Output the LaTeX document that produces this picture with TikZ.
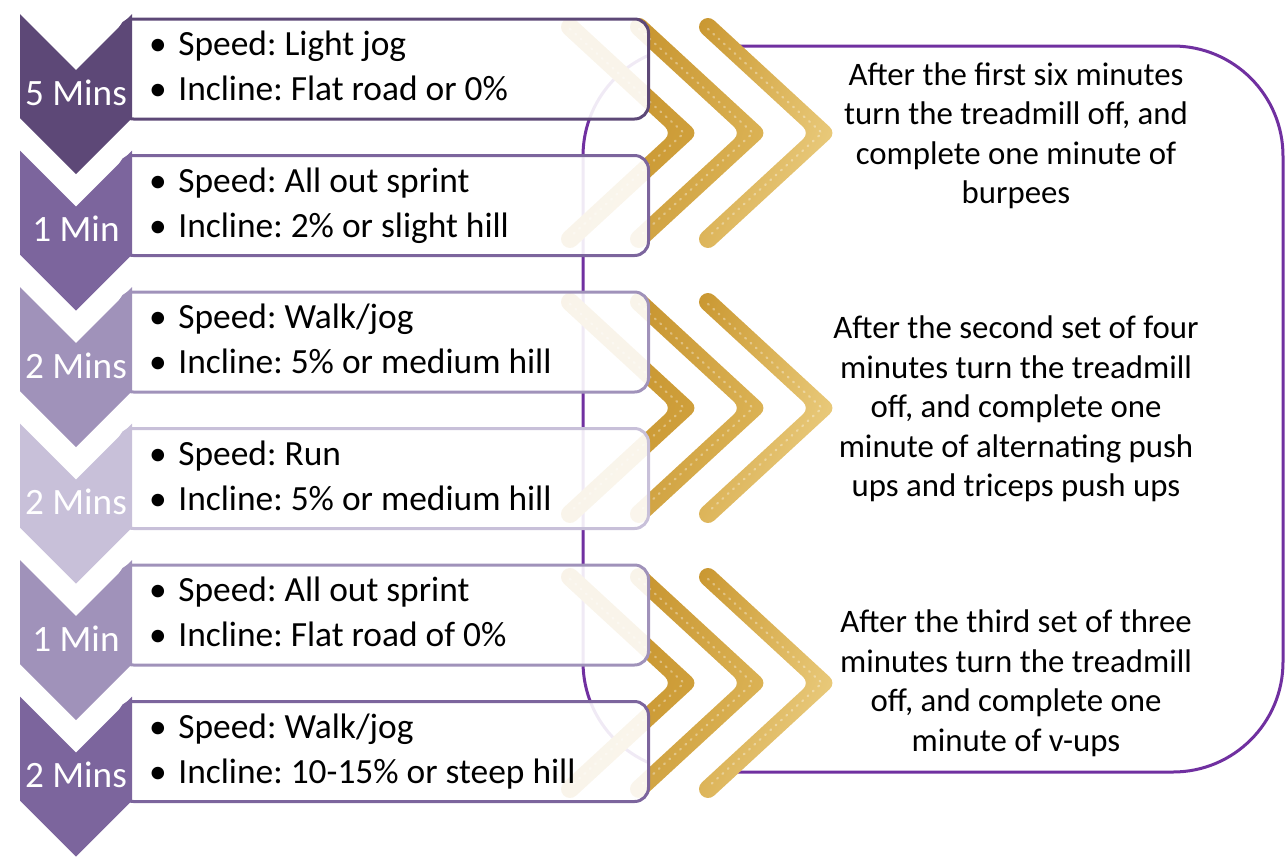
\documentclass[tikz,border=0pt]{standalone}
\usepackage{fontspec}
\setmainfont{Carlito}
\frenchspacing
\usetikzlibrary{shadings}
\definecolor{chevA}{HTML}{5D4877}
\definecolor{chevB}{HTML}{7C659D}
\definecolor{chevC}{HTML}{A092BA}
\definecolor{chevD}{HTML}{C8C0D9}
\definecolor{framepurple}{HTML}{7030A0}
\definecolor{gAul}{HTML}{C28D27}
\definecolor{gAur}{HTML}{CC9B35}
\definecolor{gAll}{HTML}{C9962F}
\definecolor{gAlr}{HTML}{D3A543}
\definecolor{gBul}{HTML}{C5912B}
\definecolor{gBur}{HTML}{D8AD4E}
\definecolor{gBll}{HTML}{D0A241}
\definecolor{gBlr}{HTML}{DFB95D}
\definecolor{gCul}{HTML}{C8952E}
\definecolor{gCur}{HTML}{E4C068}
\definecolor{gCll}{HTML}{DDB55A}
\definecolor{gClr}{HTML}{EED48E}
\tikzset{
  framestyle/.style={draw=framepurple, line width=1.5pt},
  speck/.style={white, opacity=0.35, line width=1.1pt, dash pattern=on 0.5pt off 3.1pt, line cap=round},
  boxshape/.style={rectangle, rounded corners=7pt, minimum width=264.5pt, minimum height=50pt,
    fill=white, fill opacity=0.9, line width=1.5pt, inner sep=0pt},
  labtext/.style={text=white, font=\fontsize{18.6}{22}\selectfont, inner sep=0pt},
  itemtext/.style={text=black, font=\fontsize{17.7}{20}\selectfont, inner sep=0pt},
  rtext/.style={text=black, font=\fontsize{16.4}{19.5}\selectfont, inner sep=0pt, anchor=base}
}
% gold chevron: #1 start x of centre line, #2 centre y, #3-#6 corner colours
\newcommand\goldchev[6]{%
  \shade[upper left=#3, upper right=#4, lower left=#5, lower right=#6, rounded corners=4.5pt]
    (#1-0.5,#2-118.7) -- (#1+128.3,#2) -- (#1-0.5,#2+118.7) -- (#1-12.7,#2+105.5)
    -- (#1+101.7,#2) -- (#1-12.7,#2-105.5) -- cycle;
  \draw[speck] (#1,#2-104) -- (#1+114,#2) -- (#1,#2+104);
}
\newcommand\goldgroup[1]{%
  \goldchev{570}{#1}{gAul}{gAur}{gAll}{gAlr}
  \goldchev{639}{#1}{gBul}{gBur}{gBll}{gBlr}
  \goldchev{708}{#1}{gCul}{gCur}{gCll}{gClr}
}
% step row: #1 index, #2 top y, #3 colour, #4 label, #5 line 1, #6 line 2
\newcommand\steprow[6]{%
  \node[boxshape, draw=#3, anchor=north west] (box#1) at (118,#2+3.5) {};
  \fill[#3] (20,#2) -- (76,#2+56) -- (132,#2) -- (132,#2+104) -- (76,#2+160) -- (20,#2+104) -- cycle;
  \node[labtext, anchor=base] (lab#1) at (76,#2+91) {#4};
  \node[itemtext, anchor=base] (bua#1) at (158,#2+41.5) {•};
  \node[itemtext, anchor=base west] (ita#1) at (178,#2+41.5) {#5};
  \node[itemtext, anchor=base] (bub#1) at (158,#2+86.5) {•};
  \node[itemtext, anchor=base west] (itb#1) at (178,#2+86.5) {#6};
}
\begin{document}
\begin{tikzpicture}[x=0.5pt,y=-0.5pt]
\useasboundingbox (0,0) rectangle (1286,858);
% big purple frame
\draw[framestyle, rounded corners=55pt] (583,46) rectangle (1283,772);
\fill[white] (649,30) rectangle (736,63);
\fill[white] (649,755) rectangle (736,788);
% gold chevrons
\goldgroup{133}
\goldgroup{408}
\goldgroup{683}
% steps
\steprow{1}{14}{chevA}{5 Mins}{Speed: Light jog}{Incline: Flat road or 0\%}
\steprow{2}{150.5}{chevB}{1 Min}{Speed: All out sprint}{Incline: 2\% or slight hill}
\steprow{3}{287}{chevC}{2 Mins}{Speed: Walk/jog}{Incline: 5\% or medium hill}
\steprow{4}{423.5}{chevD}{2 Mins}{Speed: Run}{Incline: 5\% or medium hill}
\steprow{5}{560}{chevC}{1 Min}{Speed: All out sprint}{Incline: Flat road of 0\%}
\steprow{6}{696.5}{chevB}{2 Mins}{Speed: Walk/jog}{Incline: 10-15\% or steep hill}
% right texts
\node[rtext] (r1a) at (1016,85) {After the first six minutes};
\node[rtext] (r1b) at (1016,124.5) {turn the treadmill off, and};
\node[rtext] (r1c) at (1016,164) {complete one minute of};
\node[rtext] (r1d) at (1016,203.5) {burpees};
\node[rtext] (r2a) at (1016,338.5) {After the second set of four};
\node[rtext] (r2b) at (1016,378) {minutes turn the treadmill};
\node[rtext] (r2c) at (1016,417.5) {off, and complete one};
\node[rtext] (r2d) at (1016,457) {minute of alternating push};
\node[rtext] (r2e) at (1016,496.5) {ups and triceps push ups};
\node[rtext] (r3a) at (1016,632.5) {After the third set of three};
\node[rtext] (r3b) at (1016,672) {minutes turn the treadmill};
\node[rtext] (r3c) at (1016,711.5) {off, and complete one};
\node[rtext] (r3d) at (1016,751) {minute of v-ups};
\end{tikzpicture}
\end{document}
